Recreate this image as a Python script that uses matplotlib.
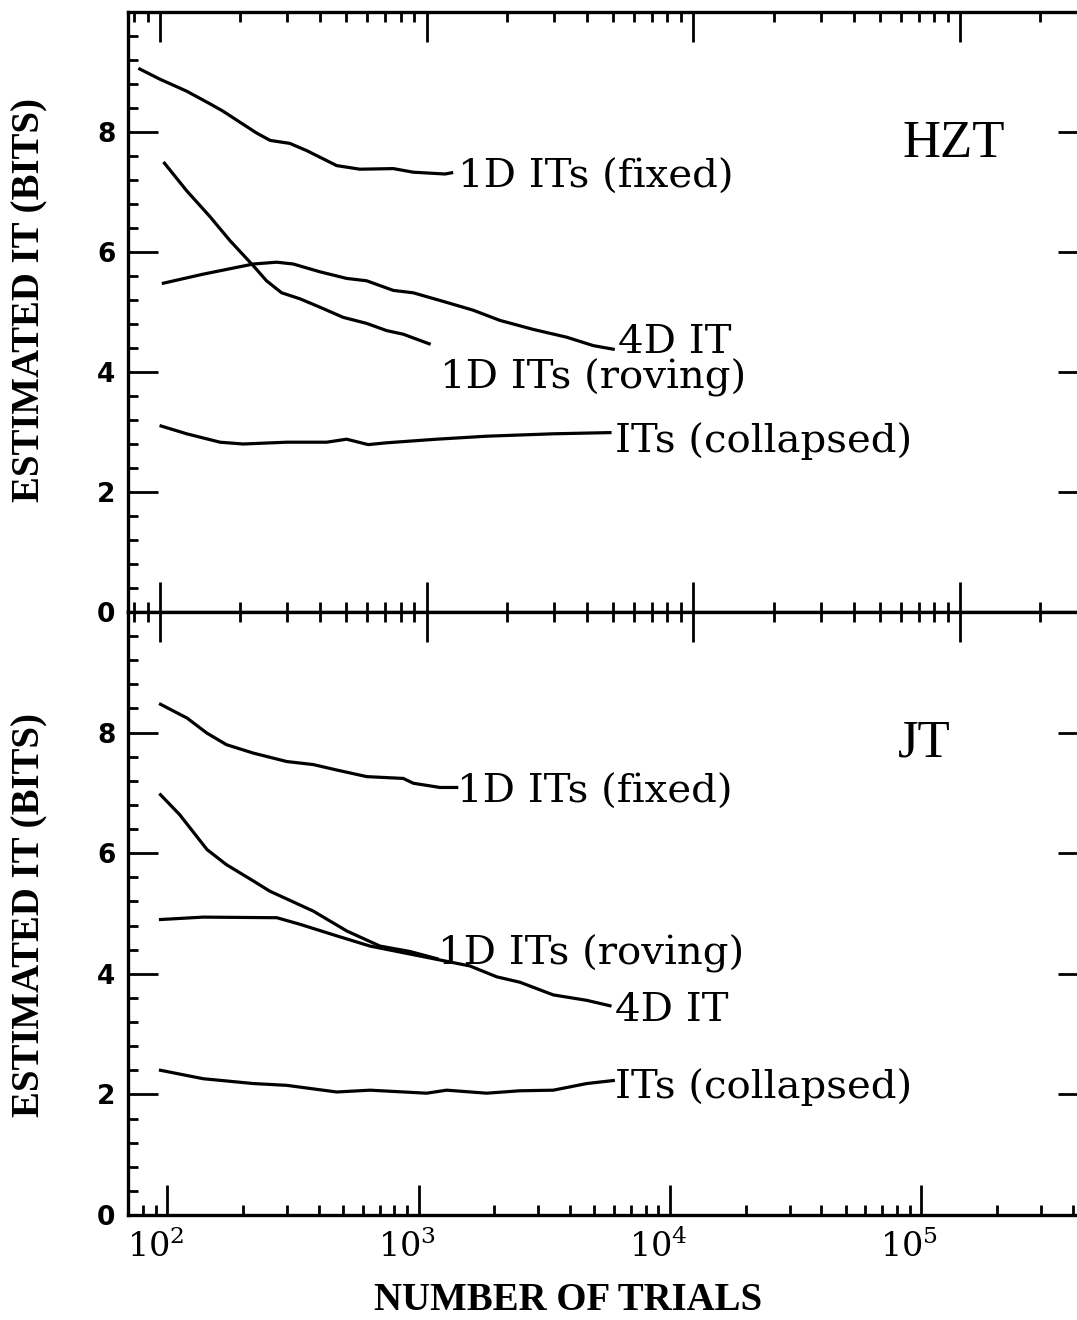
import numpy as np
import matplotlib
matplotlib.use('Agg')
from matplotlib import pyplot as plt
import matplotlib.transforms as mtransforms
from matplotlib.ticker import MultipleLocator, LogLocator, NullFormatter, FixedLocator

plt.rcParams['mathtext.fontset'] = 'dejavuserif'

# HZT panel
hzt_fixed_n = [84, 100, 126, 154, 172, 200, 231, 259, 307, 355, 460, 562, 750, 891, 1171, 1241]
hzt_fixed_v = [9.05, 8.88, 8.68, 8.47, 8.35, 8.16, 7.98, 7.86, 7.81, 7.69, 7.44, 7.38, 7.39, 7.33, 7.30, 7.32]
hzt_roving_n = [104, 126, 154, 183, 224, 251, 286, 335, 398, 487, 596, 708, 817, 1022]
hzt_roving_v = [7.48, 7.02, 6.59, 6.19, 5.77, 5.52, 5.32, 5.22, 5.08, 4.91, 4.81, 4.69, 4.63, 4.47]
hzt_4d_n = [103, 145, 224, 274, 316, 398, 501, 596, 750, 891, 1189, 1495, 1883, 2510, 3350, 4215, 5008]
hzt_4d_v = [5.48, 5.63, 5.80, 5.83, 5.80, 5.67, 5.56, 5.52, 5.36, 5.32, 5.16, 5.03, 4.86, 4.71, 4.58, 4.44, 4.38]
hzt_coll_n = [101, 126, 168, 205, 299, 422, 501, 604, 708, 1090, 1679, 2983, 4868]
hzt_coll_v = [3.10, 2.97, 2.83, 2.80, 2.83, 2.83, 2.88, 2.79, 2.82, 2.88, 2.93, 2.97, 2.99]

# JT panel
jt_fixed_n = [94, 120, 144, 172, 220, 299, 381, 472, 622, 869, 953, 1217, 1418]
jt_fixed_v = [8.47, 8.24, 7.99, 7.80, 7.66, 7.52, 7.47, 7.38, 7.27, 7.24, 7.16, 7.09, 7.09]
jt_roving_n = [94, 112, 144, 172, 220, 256, 381, 518, 702, 924, 1184]
jt_roving_v = [6.97, 6.64, 6.06, 5.81, 5.54, 5.37, 5.04, 4.71, 4.46, 4.37, 4.25]
jt_4d_n = [94, 139, 273, 338, 472, 641, 869, 1180, 1601, 2046, 2532, 3436, 4667, 5776]
jt_4d_v = [4.90, 4.94, 4.93, 4.82, 4.63, 4.46, 4.35, 4.24, 4.13, 3.95, 3.86, 3.65, 3.56, 3.47]
jt_coll_n = [94, 139, 220, 299, 472, 641, 1077, 1293, 1866, 2532, 3436, 4667, 5954]
jt_coll_v = [2.40, 2.26, 2.18, 2.15, 2.04, 2.07, 2.02, 2.07, 2.02, 2.06, 2.07, 2.18, 2.23]

xticks = [1e2, 1e3, 1e4, 1e5]
xticklabels = ['$10^{2}$', '$10^{3}$', '$10^{4}$', '$10^{5}$']
yticks = [0, 2, 4, 6, 8]

W, H = 1077, 1320
fig = plt.figure(figsize=(W / 100, H / 100), dpi=100)

left = 128 / W
width = (1088 - 128) / W
ax1 = fig.add_axes([left, (H - 612) / H, width, 600 / H])
ax2 = fig.add_axes([left, (H - 1215) / H, width, 603 / H])

# the scanned axes are not quite the same: lower axis is a bit compressed
xlim_top = (75.9, 3.02e5)
xlim_bot = (69.8, 4.61e5)

lw = 2.3
label_font = dict(family='DejaVu Serif', fontsize=29)


def xticks_setup(ax, xlim):
    ax.set_xscale('log')
    ax.set_xlim(*xlim)
    ax.xaxis.set_major_locator(FixedLocator(xticks))
    ax.xaxis.set_minor_locator(LogLocator(base=10, subs=np.arange(2, 10)))
    ax.xaxis.set_minor_formatter(NullFormatter())
    ax.tick_params(which='both', direction='in', width=2)
    ax.tick_params(which='major', length=21.5)
    ax.tick_params(which='minor', length=7.2)


def setup(ax, xlim, show_x):
    xticks_setup(ax, xlim)
    ax.set_ylim(0, 10)
    for s in ax.spines.values():
        s.set_linewidth(2.4)
    ax.yaxis.set_major_locator(FixedLocator(yticks))
    ax.yaxis.set_minor_locator(MultipleLocator(0.4))
    ax.tick_params(which='both', right=True)
    ax.tick_params(axis='y', which='major', pad=9)
    ax.tick_params(axis='x', which='major', pad=11)
    if show_x:
        ax.set_xticklabels(xticklabels, fontsize=24)
        off = mtransforms.ScaledTranslation(-12 / 100, 0, fig.dpi_scale_trans)
        for lab in ax.get_xticklabels():
            lab.set_transform(lab.get_transform() + off)
    else:
        ax.set_xticklabels([])
    ax.set_yticklabels([str(t) for t in yticks], fontsize=19,
                       family='DejaVu Sans', fontweight='bold')


setup(ax1, xlim_top, False)
ax1.tick_params(which='both', top=True)
setup(ax2, xlim_bot, True)
ax2.tick_params(which='both', top=False)

# ticks along the middle line follow the upper panel's scale
ax2t = ax2.twiny()
xticks_setup(ax2t, xlim_top)
ax2t.tick_params(which='both', top=True, bottom=False, labeltop=False)
for s in ax2t.spines.values():
    s.set_visible(False)

ax1.plot(hzt_fixed_n, hzt_fixed_v, c='black', lw=lw)
ax1.plot(hzt_roving_n, hzt_roving_v, c='black', lw=lw)
ax1.plot(hzt_4d_n, hzt_4d_v, c='black', lw=lw)
ax1.plot(hzt_coll_n, hzt_coll_v, c='black', lw=lw)

ax2.plot(jt_fixed_n, jt_fixed_v, c='black', lw=lw)
ax2.plot(jt_roving_n, jt_roving_v, c='black', lw=lw)
ax2.plot(jt_4d_n, jt_4d_v, c='black', lw=lw)
ax2.plot(jt_coll_n, jt_coll_v, c='black', lw=lw)

# curve labels
ax1.text(1309, 7.07, '1D ITs (fixed)', va='baseline', **label_font)
ax1.text(1122, 3.73, '1D ITs (roving)', va='baseline', **label_font)
ax1.text(5200, 4.31, '4D IT', va='baseline', **label_font)
ax1.text(5080, 2.67, 'ITs (collapsed)', va='baseline', **label_font)
ax1.text(61100, 7.58, 'HZT', va='baseline', family='Liberation Serif', fontsize=38)

ax2.text(1418, 6.83, '1D ITs (fixed)', va='baseline', **label_font)
ax2.text(1198, 4.15, '1D ITs (roving)', va='baseline', **label_font)
ax2.text(6046, 3.21, '4D IT', va='baseline', **label_font)
ax2.text(6046, 1.94, 'ITs (collapsed)', va='baseline', **label_font)
ax2.text(80800, 7.60, 'JT', va='baseline', family='Liberation Serif', fontsize=38)

ylab = dict(family='Liberation Serif', fontweight='bold', fontsize=28,
            rotation=90, ha='center', va='center')
fig.text(30 / W, (H - 300) / H, 'ESTIMATED IT (BITS)', **ylab)
fig.text(30 / W, (H - 915) / H, 'ESTIMATED IT (BITS)', **ylab)
fig.text(568 / W, (H - 1300) / H, 'NUMBER OF TRIALS', family='Liberation Serif',
         fontweight='bold', fontsize=28, ha='center', va='center')

fig.savefig('out.png', dpi=100)
